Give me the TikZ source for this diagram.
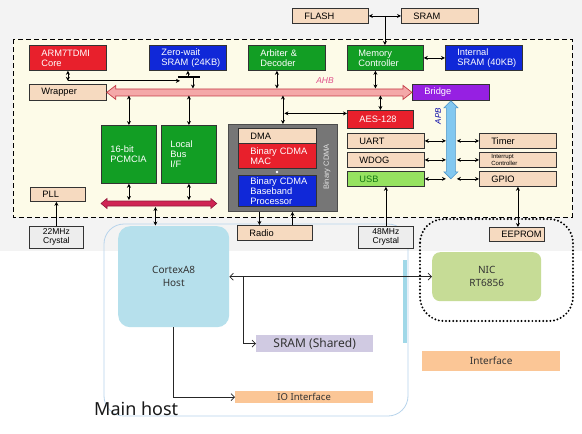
\documentclass[tikz,border=0pt]{standalone}
\usepackage{fontspec}
\setmainfont{Liberation Sans}
\newfontfamily\hostfont{Noto Sans}
\usetikzlibrary{arrows.meta,calc}
\definecolor{boxtan}{RGB}{246,218,192}
\definecolor{chipred}{RGB}{232,32,44}
\definecolor{chipblue}{RGB}{16,40,216}
\definecolor{chipgreen}{RGB}{18,158,36}
\definecolor{chippurple}{RGB}{150,32,226}
\definecolor{usbgreen}{RGB}{150,226,96}
\definecolor{usbtext}{RGB}{20,120,20}
\definecolor{bgray}{RGB}{243,243,243}
\definecolor{cream}{RGB}{253,251,232}
\definecolor{ahbpink}{RGB}{244,168,168}
\definecolor{ahbedge}{RGB}{196,60,70}
\definecolor{ahbtext}{RGB}{224,80,138}
\definecolor{lbus}{RGB}{208,36,84}
\definecolor{apbblue}{RGB}{130,200,240}
\definecolor{apbedge}{RGB}{80,150,200}
\definecolor{cdmagray}{RGB}{118,118,118}
\definecolor{hostblue}{RGB}{182,224,236}
\definecolor{nicgreen}{RGB}{198,220,150}
\definecolor{lav}{RGB}{208,202,226}
\definecolor{peach}{RGB}{251,198,150}
\definecolor{hostline}{RGB}{184,212,236}
\definecolor{cyanbar}{RGB}{160,216,232}
\begin{document}
\begin{tikzpicture}[x=1pt,y=-1pt,
  >={Stealth[length=4pt,width=4pt]},
  cb/.style={draw=black!80, line width=0.8pt, inner xsep=12pt, inner ysep=0pt, align=left, anchor=north west, font=\fontsize{9.3}{10}\selectfont},
  tanb/.style={cb, fill=boxtan, text=black},
  redb/.style={cb, fill=chipred, text=white},
  blueb/.style={cb, fill=chipblue, text=white},
  greenb/.style={cb, fill=chipgreen, text=white},
  xtal/.style={draw=black!80, line width=0.8pt, fill=gray!14, inner sep=0pt, align=center, anchor=north west, font=\fontsize{8.5}{9}\selectfont},
  conn/.style={draw=black, line width=0.7pt},
  hconn/.style={draw=black!85, line width=0.7pt, arrows={-Straight Barb[length=3.5pt,width=7pt]}},
  hbox/.style={draw=none, inner sep=0pt, anchor=north west, align=center, text=black!80},
]
\useasboundingbox (0,0) rectangle (582,434);
\fill[white] (0,0) rectangle (582,434);
\fill[bgray] (0,0) rectangle (582,251);
% chip frame
\draw[line width=0.9pt, dash pattern=on 5pt off 3pt, fill=cream] (13,39) rectangle (572,217);

% main host outline
\draw[hostline, line width=0.8pt, rounded corners=20pt] (104,224) rectangle (408,416);
\fill[cyanbar] (403,260) rectangle (407,343);
% NIC dotted area
\draw[line width=2.2pt, dash pattern=on 0pt off 3.6pt, line cap=round, rounded corners=24pt] (420,219) rectangle (573,321);

% top memories
\node[tanb, text width=52pt, minimum height=15pt] (flash) at (292,8) {FLASH};
\node[tanb, text width=53pt, minimum height=15pt] (sramt) at (401,8) {SRAM};

% row of masters/slaves
\node[redb, text width=53pt, minimum height=25pt] (arm) at (29,45) {ARM7TDMI\\Core};
\node[blueb, text width=53pt, minimum height=25pt] (zs) at (149,45) {Zero-wait\\SRAM~(24KB)};
\node[greenb, text width=53pt, minimum height=25pt] (arb) at (248,45) {Arbiter~\&\\Decoder};
\node[greenb, text width=52pt, minimum height=25pt, inner xsep=11pt, text width=54pt] (memc) at (347,45) {Memory\\Controller};
\node[blueb, text width=53pt, minimum height=25pt] (isram) at (445,45) {Internal\\SRAM~(40KB)};

\node[tanb, text width=53pt, minimum height=16pt] (wrapper) at (29,84) {Wrapper};
\node[cb, fill=chippurple, text=white, text width=53pt, minimum height=16pt] (bridge) at (412,84) {Bridge};

\node[redb, text width=42pt, minimum height=18pt] (aes) at (347,110) {AES-128};
\node[tanb, text width=53pt, minimum height=15pt] (uart) at (347,133) {UART};
\node[tanb, text width=53pt, minimum height=15pt] (wdog) at (347,152) {WDOG};
\node[cb, fill=usbgreen, text=usbtext, text width=53pt, minimum height=15pt] (usb) at (347,171) {USB};
\node[tanb, text width=53pt, minimum height=15pt] (timer) at (479,133) {Timer};
\node[tanb, text width=53pt, minimum height=15pt, font=\fontsize{6}{7}\selectfont] (intc) at (479,152) {Interrupt\\Controller};
\node[tanb, text width=53pt, minimum height=15pt] (gpio) at (479,171) {GPIO};

\node[greenb, inner xsep=9pt, text width=37pt, minimum height=58pt] (pcmcia) at (101,125) {16-bit\\PCMCIA};
\node[greenb, inner xsep=9pt, text width=37pt, minimum height=58pt] (localbus) at (161,125) {Local\\Bus\\I/F};

% Binary CDMA block
\node[draw=black!70, line width=0.8pt, fill=cdmagray, minimum width=109pt, minimum height=87pt, inner sep=0pt, anchor=north west] (cdma) at (228,124) {};
\node[rotate=90, text=white!80!gray, font=\fontsize{7.5}{8}\selectfont] (cdmalbl) at (327,167) {Binary CDMA};
\node[tanb, text width=54pt, minimum height=15pt] (dma) at (238,128) {DMA};
\node[redb, text width=54pt, minimum height=25pt] (mac) at (238,143) {Binary~CDMA\\MAC};
\node[blueb, text width=54pt, minimum height=31pt] (bbp) at (238,175) {Binary~CDMA\\Baseband\\Processor};
\fill[white] (277,172) circle (1.3pt);

\node[tanb, text width=31pt, minimum height=14pt] (pll) at (30,187) {PLL};
\node[xtal, minimum width=54pt, minimum height=22pt] (x22) at (29,226) {22MHz\\Crystal};
\node[tanb, text width=51pt, minimum height=15pt] (radio) at (237,225) {Radio};
\node[xtal, minimum width=55pt, minimum height=22pt] (x48) at (358,226) {48MHz\\Crystal};
\node[tanb, text width=31pt, minimum height=14pt] (eeprom) at (489,227) {EEPROM};

% AHB bus
\coordinate (ahbL) at (wrapper.east);
\coordinate (ahbR) at (bridge.west);
\filldraw[fill=ahbpink, draw=ahbedge, line width=0.7pt]
  (ahbL) -- ($(ahbL)+(9,-7)$) -- ($(ahbL)+(9,-3.5)$) -- ($(ahbR)+(-9,-3.5)$) -- ($(ahbR)+(-9,-7)$)
  -- (ahbR) -- ($(ahbR)+(-9,7)$) -- ($(ahbR)+(-9,3.5)$) -- ($(ahbL)+(9,3.5)$) -- ($(ahbL)+(9,7)$) -- cycle;
\node[font=\itshape\fontsize{8.5}{9}\selectfont, text=ahbtext] (ahblbl) at (325,81) {AHB};
\coordinate (ahbtop) at (0,88.5);
\coordinate (ahbbot) at (0,95.5);

% APB bus
\coordinate (apbT) at (bridge.south);
\coordinate (apbB) at ($(bridge.south)+(0,78)$);
\filldraw[fill=apbblue, draw=apbedge, line width=0.6pt]
  (apbT) -- ($(apbT)+(7,7)$) -- ($(apbT)+(4.5,7)$) -- ($(apbB)+(4.5,-7)$) -- ($(apbB)+(7,-7)$)
  -- (apbB) -- ($(apbB)+(-7,-7)$) -- ($(apbB)+(-4.5,-7)$) -- ($(apbT)+(-4.5,7)$) -- ($(apbT)+(-7,7)$) -- cycle;
\node[rotate=90, font=\itshape\fontsize{8}{9}\selectfont, text=blue!65!black] (apblbl) at (438,116) {APB};
\coordinate (apbL) at ($(bridge.south)+(-5,0)$);
\coordinate (apbR) at ($(bridge.south)+(6,0)$);

% local bus
\coordinate (lbL) at (pcmcia.west |- 0,203.5);
\coordinate (lbR) at (localbus.east |- 0,203.5);
\filldraw[fill=lbus, draw=lbus!70!black, line width=0.6pt]
  (lbL) -- ($(lbL)+(6,-5)$) -- ($(lbL)+(6,-2.5)$) -- ($(lbR)+(-6,-2.5)$) -- ($(lbR)+(-6,-5)$)
  -- (lbR) -- ($(lbR)+(-6,5)$) -- ($(lbR)+(-6,2.5)$) -- ($(lbL)+(6,2.5)$) -- ($(lbL)+(6,5)$) -- cycle;
\coordinate (lbmid) at ($(lbL)!0.47!(lbR)$);

% connectors (chip)
\draw[conn,<->] (flash.east) -- (sramt.west);
\coordinate (fj) at ($(flash.east)!0.5!(sramt.west)$);
\draw[conn,->] (fj) -- (fj |- memc.north);
\draw[conn,<->] (memc.east) -- (isram.west);

\coordinate (aj) at ($(arm.south)+(0,10)$);
\draw[conn,<->] (arm.south) -- (aj);
\draw[conn,->] (aj) -- ($(aj)+(112,0)$);
\coordinate (tb) at ($(zs.south)+(0,6)$);
\draw[line width=2.4pt] ($(tb)+(-10,0)$) -- ($(tb)+(12,0)$);
\draw[conn,->] (tb) -- (zs.south);
\coordinate (tb2) at ($(tb)+(5,0)$);
\draw[conn,->] (tb2) -- (tb2 |- ahbtop);

\coordinate (arbj) at ($(arb.south)+(-10,0)$);
\draw[conn,<->] (arbj) -- (arbj |- ahbtop);
\coordinate (memj) at ($(memc.south)+(-10,0)$);
\draw[conn,<->] (memj) -- (memj |- ahbtop);

\draw[conn,<->] (pcmcia.north |- ahbbot) -- (pcmcia.north);
\draw[conn,<->] (localbus.north |- ahbbot) -- (localbus.north);
\draw[conn,<->] (cdma.north |- ahbbot) -- (cdma.north);
\draw[conn,<->] (aes.north |- ahbbot) -- (aes.north);
\coordinate (aesj) at ($(aes.west)+(0,-6)$);
\draw[conn,<->] ($(cdma.north |- aesj)+(1.5,0)$) -- (aesj);

\foreach \n in {uart,wdog,usb}{\draw[conn,<->] (\n.east) -- (\n.east -| apbL);}
\foreach \n in {timer,intc,gpio}{\draw[conn,<->] (\n.west -| apbR) -- (\n.west);}

\draw[conn,<->] (pcmcia.south) -- (pcmcia.south |- 0,200);
\draw[conn,<->] (localbus.south) -- (localbus.south |- 0,200);
\draw[conn,<->] ($(lbmid)+(0,3.5)$) -- ($(lbmid)+(0,22)$);

\draw[conn,->] (x22.north) -- (x22.north |- pll.south);
\coordinate (c1) at ($(cdma.south)+(-23.5,0)$);
\coordinate (c2) at ($(cdma.south)+(9.5,0)$);
\draw[conn,->] (c1) -- (c1 |- radio.north);
\draw[conn,->] (c2 |- radio.north) -- (c2);
\draw[conn,->] (x48.north) -- (usb.south);
\draw[conn,<->] (gpio.south) -- (gpio.south |- eeprom.north);

% host side
\node[hbox, fill=hostblue, rounded corners=12pt, minimum width=111pt, minimum height=101pt, font=\hostfont\fontsize{10}{13}\selectfont] (cortex) at (118,226) {CortexA8\\Host};
\node[hbox, fill=nicgreen, rounded corners=8pt, minimum width=109pt, minimum height=49pt, font=\hostfont\fontsize{10}{13}\selectfont] (nic) at (432,252) {NIC\\RT6856};
\node[hbox, fill=lav, minimum width=117pt, minimum height=17pt, font=\hostfont\fontsize{12}{13}\selectfont] (sramsh) at (256,335) {SRAM (Shared)};
\node[hbox, fill=peach, minimum width=138pt, minimum height=12pt, font=\hostfont\fontsize{9.5}{10}\selectfont] (iointf) at (235,391) {IO Interface};
\node[hbox, fill=peach, minimum width=138pt, minimum height=20pt, font=\hostfont\fontsize{10}{11}\selectfont] (intf) at (422,351) {Interface};
\node[font=\hostfont\fontsize{18}{18}\selectfont, anchor=base west, inner sep=0pt, text=black!90] (mainhost) at (94,415) {Main host};

\draw[hconn, arrows={Straight Barb[length=3.5pt,width=7pt]-Straight Barb[length=3.5pt,width=7pt]}] (cortex.east) -- (nic.west);
\coordinate (hj) at ($(cortex.east)+(14,0)$);
\draw[hconn] (hj) |- (sramsh.west);
\draw[hconn] (cortex.south) |- (iointf.west);
\end{tikzpicture}
\end{document}
